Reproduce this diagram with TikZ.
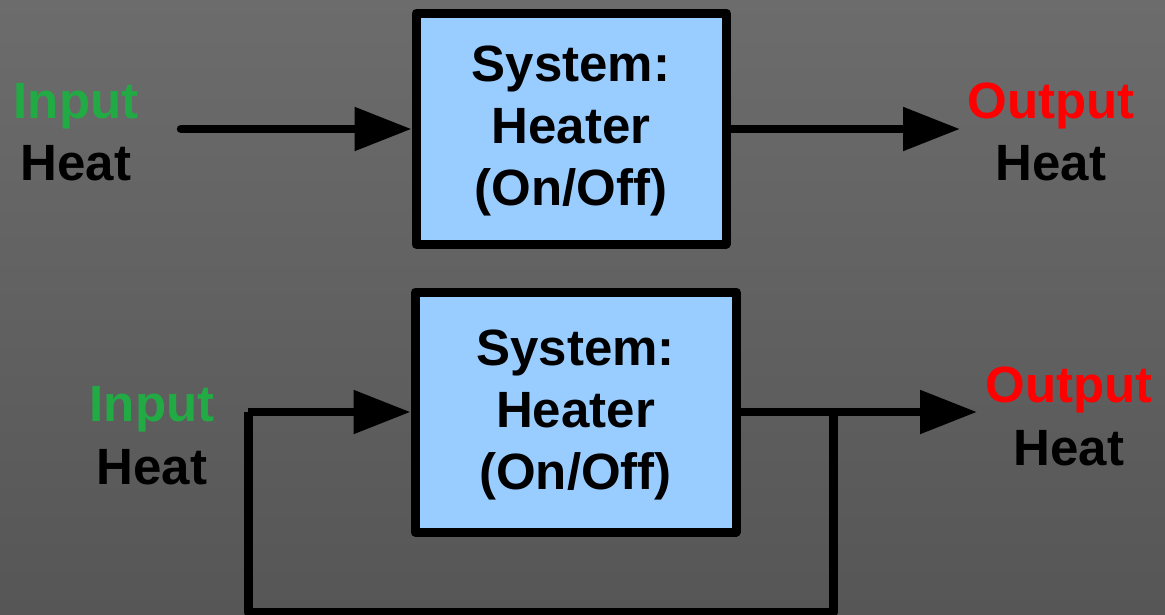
\documentclass[tikz,border=0pt]{standalone}
\usepackage{fontspec}
\setmainfont{Liberation Sans}
\usetikzlibrary{arrows.meta}
\definecolor{bgtop}{RGB}{108,108,108}
\definecolor{bgbot}{RGB}{86,86,86}
\definecolor{boxfill}{RGB}{153,204,255}
\definecolor{ingreen}{RGB}{34,170,68}
\definecolor{outred}{RGB}{255,0,0}
\tikzset{
  sysbox/.style={draw=black, line width=9pt, fill=boxfill, line join=round,
    align=center, font=\fontsize{51}{62}\selectfont\bfseries, inner sep=0pt,
    text depth=5pt},
  lbl/.style={anchor=base, inner sep=0pt, font=\fontsize{51}{62}\selectfont\bfseries},
  flow/.style={line width=8.5pt, line join=round, -{Triangle[length=57pt,width=42pt]}},
  loopline/.style={line width=9pt, line join=round},
}
\begin{document}
\begin{tikzpicture}[x=1pt,y=-1pt]
\shade[top color=bgtop, bottom color=bgbot] (0,0) rectangle (1165,614);
\useasboundingbox (0,0) rectangle (1165,614);
% top diagram
\node[sysbox, minimum width=310pt, minimum height=231pt] (box1) at (571,128.5)
  {System:\\Heater\\(On/Off)};
\coordinate (inT) at (181,129);
\coordinate (outT) at (960,129);
\draw[flow, line cap=round] (inT) -- (inT -| box1.west);
\draw[flow] (outT -| box1.east) -- (outT);
\node[lbl, text=ingreen] (inlab1) at (76,118) {Input};
\node[lbl, text=black] (inheat1) at (76,180) {Heat};
\node[lbl, text=outred] (outlab1) at (1051,118) {Output};
\node[lbl, text=black] (outheat1) at (1051,180) {Heat};
% bottom diagram
\node[sysbox, minimum width=321pt, minimum height=240pt] (box2) at (575.5,412)
  {System:\\Heater\\(On/Off)};
\coordinate (j) at (833,412);
\coordinate (c1) at (833,612.5);
\coordinate (c2) at (248,612.5);
\coordinate (c3) at (248,412);
\coordinate (outB) at (977,412);
\draw[loopline] (j) -- (c1) -- (c2) -- (c3);
\draw[flow] (c3) -- (c3 -| box2.west);
\draw[flow] (box2.east |- outB) -- (outB);
\node[lbl, text=ingreen] (inlab2) at (152,421) {Input};
\node[lbl, text=black] (inheat2) at (152,484) {Heat};
\node[lbl, text=outred] (outlab2) at (1069,402) {Output};
\node[lbl, text=black] (outheat2) at (1069,465) {Heat};
\end{tikzpicture}
\end{document}
